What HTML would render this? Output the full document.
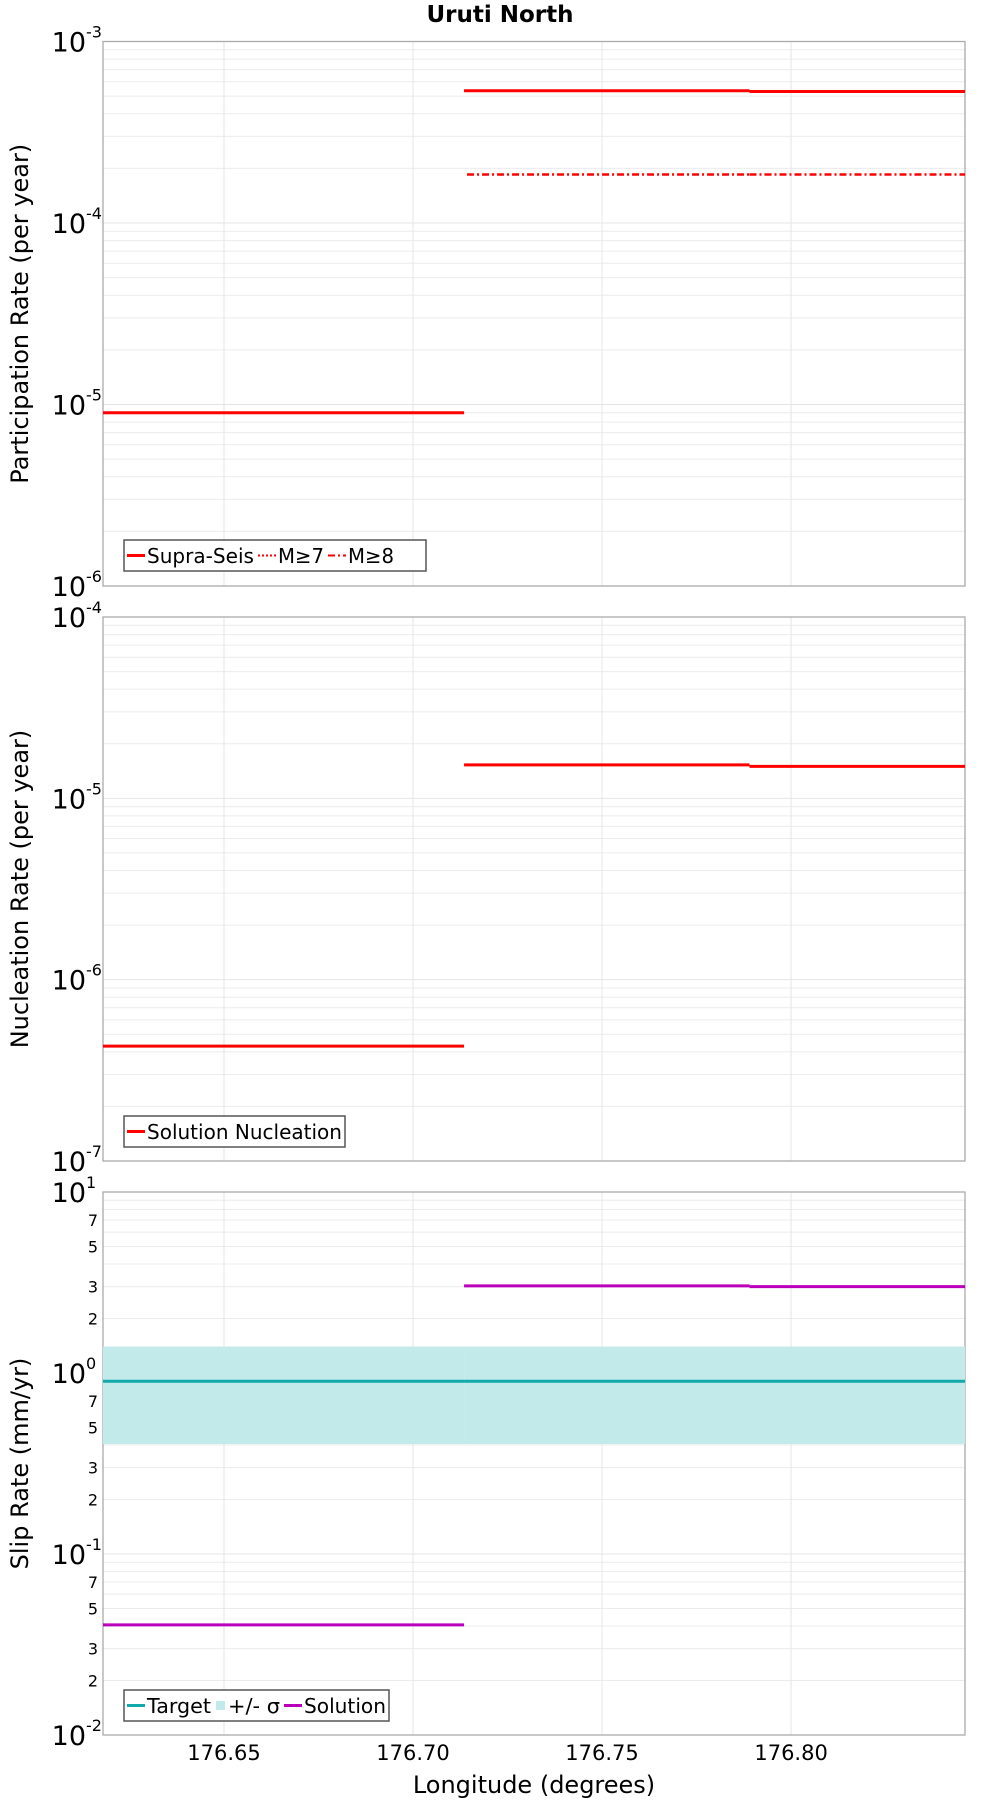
<!DOCTYPE html>
<html><head><meta charset="utf-8"><style>
body{margin:0;background:#fff}
svg{display:block;font-family:"DejaVu Sans","Liberation Sans",sans-serif}
</style></head><body>
<svg id="c" width="1000" height="1800" viewBox="0 0 1000 1800" xmlns="http://www.w3.org/2000/svg">
<text x="500" y="22" text-anchor="middle" font-weight="bold" font-size="23">Uruti North</text>
</svg>
<script>
// x data (longitude breakpoints)
const segStarts = [176.618, 176.7135, 176.789];
const segEnds = [176.7135, 176.789, 176.846];
const xTicks = [176.65, 176.70, 176.75, 176.80];
const xTickLabels = ["176.65", "176.70", "176.75", "176.80"];
// panel 1
const supraSeis = [9.0e-6, 5.35e-4, 5.3e-4];
const m7 = [9.0e-6, 5.35e-4, 5.3e-4];
const m8 = [null, 1.85e-4, 1.85e-4];
// panel 2
const nucleation = [4.3e-7, 1.53e-5, 1.5e-5];
// panel 3
const slipSolution = [0.0406, 3.03, 3.0];
const slipTarget = [0.90, 0.90, 0.90];
const slipSigmaLow = [0.405, 0.405, 0.405];
const slipSigmaHigh = [1.4, 1.4, 1.4];

const NS = "http://www.w3.org/2000/svg";
const svg = document.getElementById('c');
const X0 = 103, X1 = 965, XMIN = 176.618, XMAX = 176.846;
function xs(v){ return X0 + (v - XMIN) / (XMAX - XMIN) * (X1 - X0); }
function mk(tag, attrs, parent){
  const e = document.createElementNS(NS, tag);
  for (const k in attrs) e.setAttribute(k, attrs[k]);
  (parent || svg).appendChild(e);
  return e;
}
const panels = [
  {top:41.5, bottom:586, lo:-6, hi:-3, title:"Participation Rate (per year)", name:"participation", minorLabels:false},
  {top:617, bottom:1161, lo:-7, hi:-4, title:"Nucleation Rate (per year)", name:"nucleation", minorLabels:false},
  {top:1192, bottom:1735, lo:-2, hi:1, title:"Slip Rate (mm/yr)", name:"slip-rate", minorLabels:true}
];
function ysFn(p){ return v => p.bottom - (Math.log10(v) - p.lo) / (p.hi - p.lo) * (p.bottom - p.top); }

function decadeLabel(g, y, d){
  const t = mk('text', {x:86, y:y+10, 'text-anchor':'end', 'font-size':27}, g);
  
  
  t.textContent = '10';
  const s = mk('text', {x:86, y:y-4, 'text-anchor':'start', 'font-size':16}, g);
  
  
  s.textContent = String(d);
}

panels.forEach((p, pi) => {
  const ys = ysFn(p);
  const g = mk('g', {});
  
  
  for (let d = p.lo; d < p.hi; d++) {
    for (let m = 1; m <= 9; m++) {
      const v = m * Math.pow(10, d);
      const y = ys(v);
      const l = mk('line', {x1:X0, x2:X1, y1:y, y2:y, stroke: m===1? '#e4e4e4':'#ececec', 'stroke-width':1}, g);
      
      
      if (m === 1) {
        decadeLabel(g, y, d);
      } else if (p.minorLabels && [2,3,5,7].includes(m)) {
        const t = mk('text', {x:98, y:y+6, 'text-anchor':'end', 'font-size':16}, g);
        
        
        t.textContent = String(m);
      }
    }
  }
  decadeLabel(g, p.top, p.hi);
  xTicks.forEach(v => {
    const l = mk('line', {x1:xs(v), x2:xs(v), y1:p.top, y2:p.bottom, stroke:'#e6e6e6', 'stroke-width':1}, g);
    
    
  });
  const fr = mk('rect', {x:X0, y:p.top, width:X1-X0, height:p.bottom-p.top, fill:'none', stroke:'#aaa', 'stroke-width':1.3}, g);
  
  
  const yt = mk('text', {transform:`translate(28 ${(p.top+p.bottom)/2}) rotate(-90)`, 'text-anchor':'middle', 'font-size':24}, g);
  
  
  yt.textContent = p.title;
  p.ys = ys; p.g = g;
});

function seg(p, arr, color, w, dash, name){
  arr.forEach((v, i) => {
    if (v == null) return;
    let xa = xs(segStarts[i]);
    if (name === 'm8-line' && i === 1) xa += 3;
    const l = mk('line', {x1:xa, x2:xs(segEnds[i]), y1:p.ys(v), y2:p.ys(v), stroke:color, 'stroke-width':w}, p.g);
    if (dash) l.setAttribute('stroke-dasharray', dash);
    
    
  });
}
{
  const p = panels[2];
  slipSigmaLow.forEach((v, i) => {
    const r = mk('rect', {x:xs(segStarts[i]), width:xs(segEnds[i])-xs(segStarts[i]), y:p.ys(slipSigmaHigh[i]), height:p.ys(v)-p.ys(slipSigmaHigh[i]), fill:'#c3eaea'}, p.g);
    
    
  });
}
seg(panels[0], supraSeis, '#ff0000', 3, null, 'supra-seis-line');
seg(panels[0], m7, '#ff0000', 2, '2 2', 'm7-line');
seg(panels[0], m8, '#ff0000', 2.5, '7 3 2 3', 'm8-line');
seg(panels[1], nucleation, '#ff0000', 3, null, 'nucleation-line');
seg(panels[2], slipTarget, '#10aaaa', 3, null, 'target-line');
seg(panels[2], slipSolution, '#bb00bb', 3, null, 'solution-line');

xTicks.forEach((v, i) => {
  const t = mk('text', {x:xs(v), y:1760, 'text-anchor':'middle', 'font-size':21});
  
  
  t.textContent = xTickLabels[i];
});
{
  const t = mk('text', {x:534, y:1793, 'text-anchor':'middle', 'font-size':24});
  
  
  t.textContent = 'Longitude (degrees)';
}

function legend(x, y, w, items, name){
  const g = mk('g', {});
  
  
  const r = mk('rect', {x:x, y:y, width:w, height:31, fill:'#fff', stroke:'#555', 'stroke-width':1.5}, g);
  
  
  let cx = x + 3;
  items.forEach(it => {
    let sw;
    if (it.band) {
      sw = mk('rect', {x:cx+1, y:y+11, width:9, height:9, fill:'#c3eaea'}, g);
      cx += 13;
    } else {
      sw = mk('line', {x1:cx, x2:cx+18, y1:y+15.5, y2:y+15.5, stroke:it.color, 'stroke-width':it.dash?2:3}, g);
      if (it.dash) sw.setAttribute('stroke-dasharray', it.dash);
      cx += 20;
    }
    
    
    const t = mk('text', {x:cx, y:y+23, 'font-size':20, textLength:it.tw, lengthAdjust:'spacingAndGlyphs'}, g);
    
    
    t.textContent = it.label;
    cx += it.tw + 4;
  });
}
legend(124, 540, 302, [
  {label:'Supra-Seis', color:'#f00', tw:107},
  {label:'M≥7', color:'#f00', dash:'2 2', tw:46},
  {label:'M≥8', color:'#f00', dash:'7 3 2 3', tw:46}
], 'participation-legend');
legend(124, 1116, 221, [
  {label:'Solution Nucleation', color:'#f00', tw:195}
], 'nucleation-legend');
legend(124, 1690, 265, [
  {label:'Target', color:'#10aaaa', tw:64},
  {band:true, label:'+/- σ', tw:52},
  {label:'Solution', color:'#bb00bb', tw:82}
], 'slip-legend');
</script>
</body></html>
